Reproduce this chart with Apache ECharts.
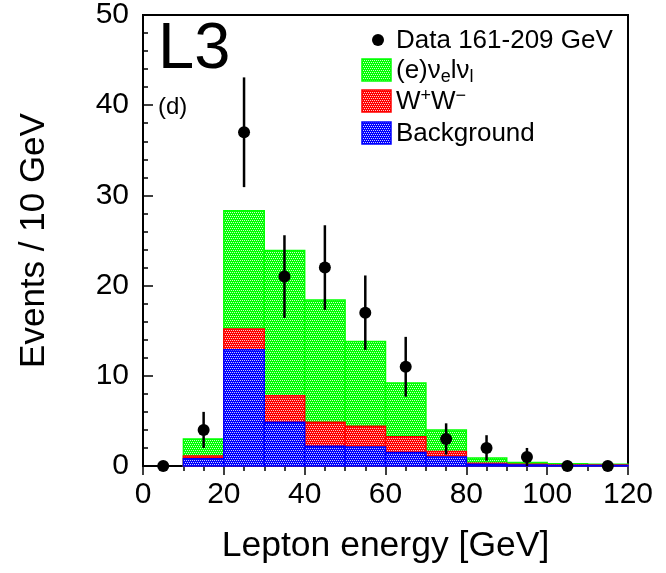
<!DOCTYPE html>
<html>
<head>
<meta charset="utf-8">
<script src="https://cdn.jsdelivr.net/npm/echarts@6/dist/echarts.min.js"></script>
<style>
html,body{margin:0;padding:0;background:#fff;}
#chart{width:666px;height:573px;}
</style>
</head>
<body>
<div id="chart"></div>
<script>
// Bin lower edges (GeV), bin width 10
const binLow = [0, 10, 20, 30, 40, 50, 60, 70, 80, 90, 100, 110];
const binWidth = 10;
// Stacked contributions per bin
const background = [0, 0.8, 12.9, 4.85, 2.2, 2.1, 1.5, 1.0, 0.2, 0.1, 0.05, 0.05];
const wwValues   = [0, 0.3, 2.3, 2.95, 2.65, 2.3, 1.75, 0.6, 0.1, 0.1, 0.05, 0.05];
const signal     = [0, 1.9, 13.1, 16.1, 13.55, 9.4, 5.95, 2.4, 0.6, 0.2, 0.15, 0.1];
// Data points (bin centres) and counts
const dataX = [5, 15, 25, 35, 45, 55, 65, 75, 85, 95, 105, 115];
const dataY = [0, 4, 37, 21, 22, 17, 11, 3, 2, 1, 0, 0];
// Axis ticks
const xTicks = [0, 20, 40, 60, 80, 100, 120];
const yTicks = [0, 10, 20, 30, 40, 50];

const FONT = "'Liberation Sans', Arial, Helvetica, sans-serif";

function makePattern(base) {
  const c = document.createElement('canvas');
  c.width = 4; c.height = 4;
  const ctx = c.getContext('2d');
  ctx.fillStyle = base;
  ctx.fillRect(0, 0, 4, 4);
  ctx.fillStyle = 'rgba(255,255,255,0.8)';
  ctx.fillRect(0, 0, 1, 1);
  ctx.fillRect(2, 0, 1, 1);
  ctx.fillRect(1, 2, 1, 1);
  ctx.fillRect(3, 2, 1, 1);
  return {image: c, repeat: 'repeat'};
}
const greenFill = makePattern('#00ff00');
const redFill = makePattern('#ff0000');
const blueFill = makePattern('#0000ff');

const bgTop = background.slice();
const wwTop = background.map((v, i) => v + wwValues[i]);
const totTop = wwTop.map((v, i) => v + signal[i]);

function histData(tops) {
  return binLow.map((x, i) => [x, x + binWidth, tops[i]]);
}
function histSeries(name, tops, fill, stroke) {
  return {
    type: 'custom',
    name: name,
    data: histData(tops),
    encode: {x: [0, 1], y: 2},
    itemStyle: {color: stroke},
    renderItem: function (params, api) {
      const p0 = api.coord([api.value(0), api.value(2)]);
      const p1 = api.coord([api.value(1), 0]);
      const h = p1[1] - p0[1];
      if (h <= 0) return null;
      return {
        type: 'rect',
        shape: {x: p0[0], y: p0[1], width: p1[0] - p0[0], height: h},
        style: {fill: fill, stroke: stroke, lineWidth: 1.5}
      };
    },
    silent: true
  };
}

const errData = dataX.map((x, i) => [x, dataY[i], Math.sqrt(dataY[i])]);

const chart = echarts.init(document.getElementById('chart'), null, {renderer: 'canvas'});
chart.setOption({
  animation: false,
  backgroundColor: '#fff',
  grid: {left: 143, right: 38, top: 15, bottom: 107, show: true, borderColor: '#000', borderWidth: 2, backgroundColor: 'transparent'},
  xAxis: {
    type: 'value', min: xTicks[0], max: xTicks[xTicks.length - 1], interval: 20,
    name: 'Lepton energy [GeV]', nameLocation: 'middle', nameGap: 62,
    nameTextStyle: {fontFamily: FONT, fontSize: 35.5, color: '#000'},
    axisLine: {show: true, lineStyle: {color: '#000', width: 2}},
    axisTick: {show: true, inside: false, length: 9, lineStyle: {color: '#000', width: 1.5}},
    minorTick: {show: true, splitNumber: 4, length: 5, lineStyle: {color: '#000', width: 1.5}},
    axisLabel: {fontFamily: FONT, fontSize: 30, color: '#000', margin: 14},
    splitLine: {show: false}
  },
  yAxis: {
    type: 'value', min: yTicks[0], max: yTicks[yTicks.length - 1], interval: 10,
    name: 'Events / 10 GeV', nameLocation: 'middle', nameGap: 91,
    nameTextStyle: {fontFamily: FONT, fontSize: 35, color: '#000'},
    axisLine: {show: true, lineStyle: {color: '#000', width: 2}},
    axisTick: {show: true, inside: true, length: 10, lineStyle: {color: '#000', width: 1.5}},
    minorTick: {show: true, splitNumber: 5, length: 5, lineStyle: {color: '#000', width: 1.5}},
    axisLabel: {fontFamily: FONT, fontSize: 30, color: '#000', margin: 14},
    splitLine: {show: false}
  },
  series: [
    histSeries('(e)νelνl', totTop, greenFill, '#00ff00'),
    histSeries('W+W-', wwTop, redFill, '#ff0000'),
    histSeries('Background', bgTop, blueFill, '#0000ff'),
    {
      type: 'custom',
      name: 'errors',
      data: errData,
      encode: {x: 0, y: 1},
      renderItem: function (params, api) {
        const e = api.value(2);
        if (!(e > 0)) return null;
        const a = api.coord([api.value(0), api.value(1) - e]);
        const b = api.coord([api.value(0), api.value(1) + e]);
        return {type: 'line', shape: {x1: a[0], y1: a[1], x2: b[0], y2: b[1]}, style: {stroke: '#000', lineWidth: 2.5}};
      },
      z: 5, silent: true
    },
    {
      type: 'scatter',
      name: 'Data 161-209 GeV',
      data: dataX.map((x, i) => [x, dataY[i]]),
      symbol: 'circle', symbolSize: 12,
      itemStyle: {color: '#000', opacity: 1},
      z: 6, silent: true, clip: false
    }
  ],
  graphic: [
    {type: 'text', left: 158, top: 18, style: {text: 'L3', font: '65px ' + FONT, fill: '#000'}},
    {type: 'text', left: 158, top: 95, style: {text: '(d)', font: '24px ' + FONT, fill: '#000'}},
    {type: 'circle', shape: {cx: 378, cy: 40, r: 6}, style: {fill: '#000'}},
    {type: 'text', x: 396, y: 41, style: {text: 'Data 161-209 GeV', font: '26px ' + FONT, fill: '#000', verticalAlign: 'middle'}},
    {type: 'rect', shape: {x: 362, y: 59, width: 29, height: 22}, style: {fill: greenFill, stroke: '#00ff00', lineWidth: 1.5}},
    {type: 'rect', shape: {x: 362, y: 90, width: 29, height: 22}, style: {fill: redFill, stroke: '#ff0000', lineWidth: 1.5}},
    {type: 'rect', shape: {x: 362, y: 122, width: 29, height: 22}, style: {fill: blueFill, stroke: '#0000ff', lineWidth: 1.5}},
    {type: 'text', x: 396, y: 71, style: {
      text: '{n|(e)ν}{s|e}{n|lν}{s|l}', fill: '#000', verticalAlign: 'middle',
      rich: {
        n: {fontFamily: FONT, fontSize: 26, lineHeight: 30, verticalAlign: 'middle'},
        s: {fontFamily: FONT, fontSize: 18, lineHeight: 14, verticalAlign: 'bottom'}
      }
    }},
    {type: 'text', x: 396, y: 102, style: {
      text: '{n|W}{s|+}{n|W}{s|−}', fill: '#000', verticalAlign: 'middle',
      rich: {
        n: {fontFamily: FONT, fontSize: 26, lineHeight: 30, verticalAlign: 'middle'},
        s: {fontFamily: FONT, fontSize: 18, lineHeight: 14, verticalAlign: 'top'}
      }
    }},
    {type: 'text', x: 396, y: 134, style: {text: 'Background', font: '26px ' + FONT, fill: '#000', verticalAlign: 'middle'}}
  ]
});
</script>
</body>
</html>
